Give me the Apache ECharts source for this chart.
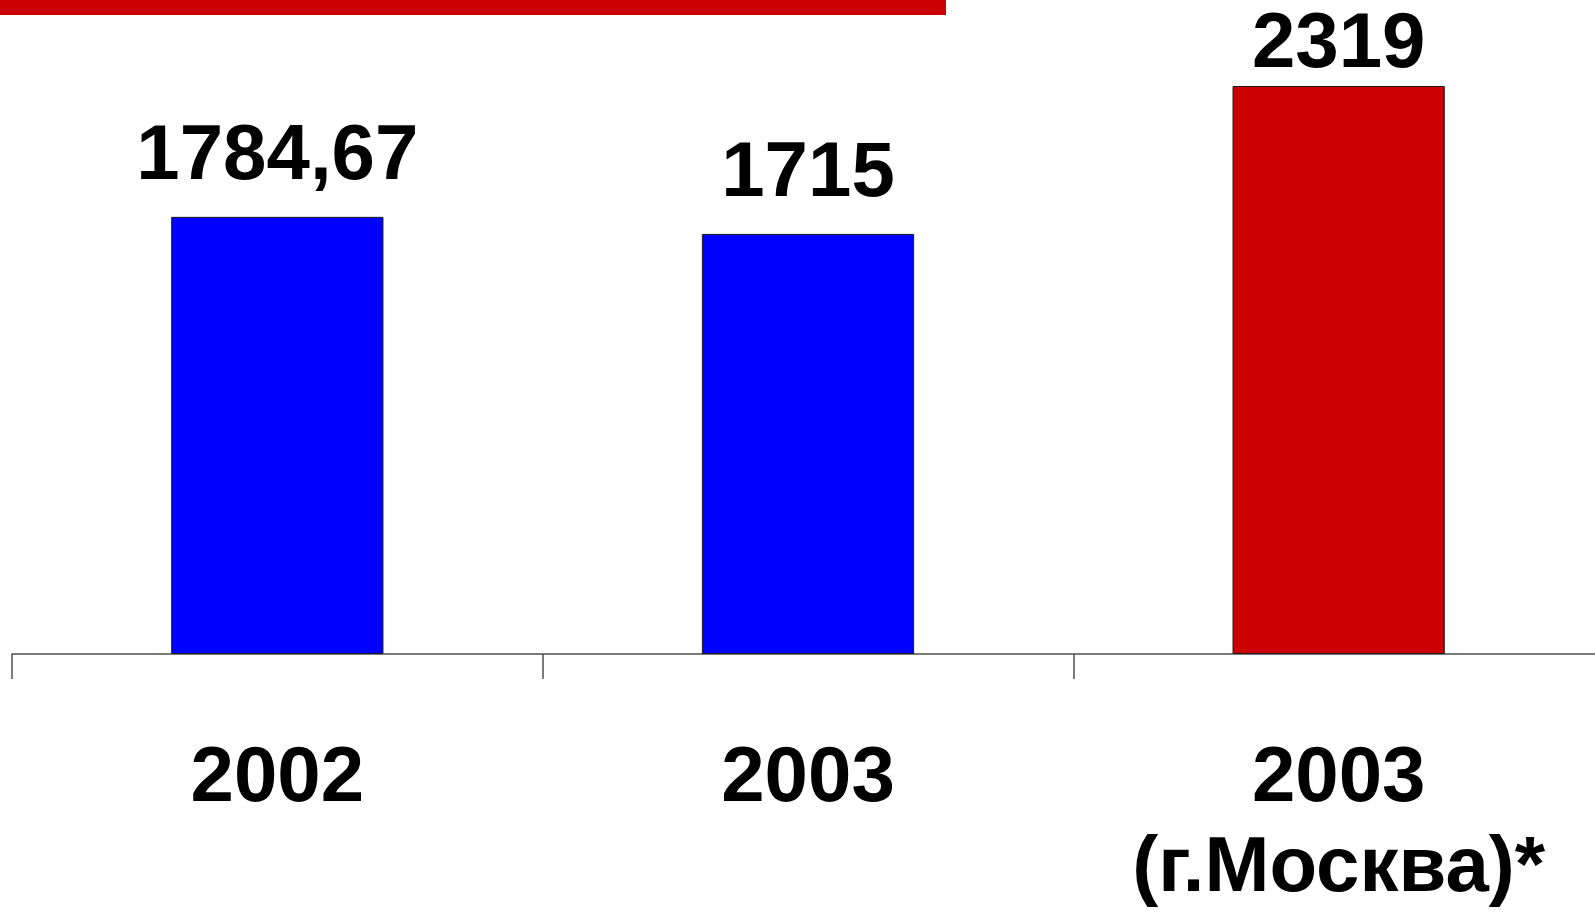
<!DOCTYPE html>
<html>
<head>
<meta charset="utf-8">
<script src="https://cdn.jsdelivr.net/npm/echarts@6/dist/echarts.min.js"></script>
<style>
  html, body { margin: 0; padding: 0; background: #fff; }
  #main { width: 1595px; height: 912px; }
</style>
</head>
<body>
<div id="main"></div>
<script>
var categories = ['2002', '2003', '2003\n(г.Москва)*'];
var values = [1784.67, 1715, 2319];
var barColors = ['#0000FF', '#0000FF', '#CC0000'];

var myChart = echarts.init(document.getElementById('main'));

// the last label sits closer to its bar (it was squeezed under the top stripe)
var labelDistance = [20, 20, 1];

var barData = values.map(function (v, i) {
    return {
        value: v,
        itemStyle: { color: barColors[i] },
        label: { distance: labelDistance[i] }
    };
});

var option = {
    animation: false,
    backgroundColor: '#ffffff',
    graphic: [
        {
            type: 'rect',
            left: 0,
            top: 0,
            shape: { width: 946, height: 15 },
            style: { fill: '#CC0000' }
        }
    ],
    grid: {
        left: 12,
        top: 0,
        width: 1592,
        bottom: 258,
        containLabel: false,
        outerBoundsMode: 'none'
    },
    xAxis: {
        type: 'category',
        data: categories,
        boundaryGap: true,
        axisLine: { lineStyle: { color: '#505050', width: 1.5 } },
        axisTick: { show: true, length: 25, lineStyle: { color: '#505050', width: 1.5 } },
        axisLabel: {
            margin: 80,
            color: '#000',
            fontFamily: 'Liberation Sans, Arial, sans-serif',
            fontWeight: 'bold',
            fontSize: 78,
            lineHeight: 90,
            interval: 0
        }
    },
    yAxis: {
        type: 'value',
        min: 0,
        max: 2670,
        show: false,
        splitLine: { show: false }
    },
    series: [
        {
            type: 'bar',
            data: barData,
            barWidth: '40%',
            itemStyle: { borderColor: '#1a1a1a', borderWidth: 1 },
            label: {
                show: true,
                position: 'top',
                color: '#000',
                fontFamily: 'Liberation Sans, Arial, sans-serif',
                fontWeight: 'bold',
                fontSize: 78,
                lineHeight: 78,
                formatter: function (p) {
                    return String(p.value).replace('.', ',');
                }
            }
        }
    ]
};

myChart.setOption(option);
</script>
</body>
</html>
